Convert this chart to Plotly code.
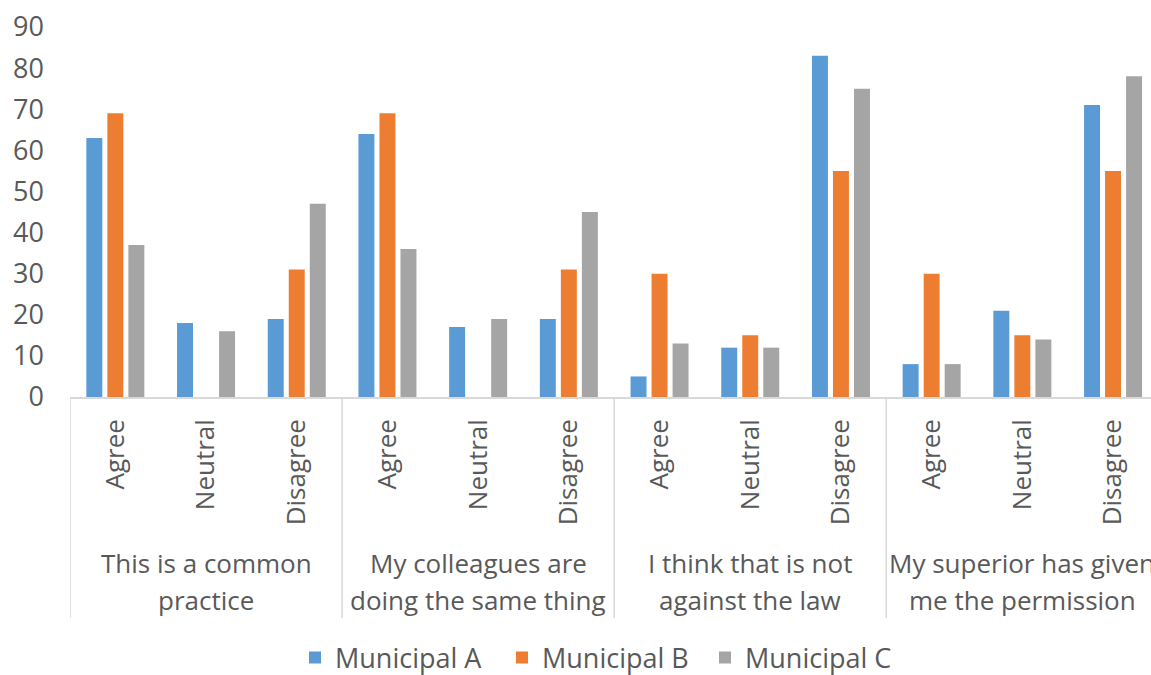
import plotly.graph_objects as go

groups = ["This is a common<br>practice", "My colleagues are<br>doing the same thing",
          "I think that is not<br>against the law", "My superior has given<br>me the permission"]
responses = ["Agree", "Neutral", "Disagree"]
series_names = ["Municipal A", "Municipal B", "Municipal C"]
municipal_a = [63, 18, 19, 64, 17, 19, 5, 12, 83, 8, 21, 71]
municipal_b = [69, 0, 31, 69, 0, 31, 30, 15, 55, 30, 15, 55]
municipal_c = [37, 16, 47, 36, 19, 45, 13, 12, 75, 8, 14, 78]
colors = ["#5B9BD5", "#ED7D31", "#A5A5A5"]
legend_widths = [162, 158, 150]
y_ticks = [0, 10, 20, 30, 40, 50, 60, 70, 80, 90]

n_resp = len(responses)
positions = list(range(len(groups) * n_resp))
tick_text = [responses[i % n_resp] for i in positions]

FONT = "Open Sans"
TXT = "#595959"

fig = go.Figure()
for name, vals, col, lw in zip(series_names, [municipal_a, municipal_b, municipal_c], colors, legend_widths):
    fig.add_trace(go.Bar(x=positions, y=vals, name=name, legendwidth=lw,
                         marker=dict(color=col, line=dict(width=0))))

W, H = 1151, 675
L, T = 70, 27
plot_h = 370
B = H - T - plot_h
plot_w = W - L
x_right = -0.5 + plot_w / 90.7

def py(screen_y):
    return -(screen_y - 397) / plot_h

def px(screen_x):
    return (screen_x - 70) / plot_w

fig.update_layout(
    width=W, height=H,
    margin=dict(l=L, r=0, t=T, b=B, pad=0, autoexpand=False),
    plot_bgcolor="white", paper_bgcolor="white",
    barmode="group", bargap=0.305, bargroupgap=0.24,
    font=dict(family=FONT, color=TXT, size=26),
    showlegend=True,
    legend=dict(orientation="h", x=px(295), xanchor="left", y=py(658), yanchor="middle",
                font=dict(size=27, color=TXT), itemwidth=30, traceorder="normal",
                tracegroupgap=0),
    xaxis=dict(range=[-0.5, x_right], tickmode="array", tickvals=positions, ticktext=tick_text,
               tickangle=-90, showline=True, linecolor="#D9D9D9", linewidth=1.5,
               showgrid=False, zeroline=False, ticks="", ticklabelstandoff=10,
               ticklabeloverflow="allow",
               tickfont=dict(size=26, color=TXT, family=FONT)),
    yaxis=dict(range=[0, 90], tickmode="array", tickvals=y_ticks, showgrid=False, zeroline=False,
               showline=False, ticks="", ticklabelstandoff=25, ticklabeloverflow="allow",
               tickfont=dict(size=27, color=TXT, family=FONT)),
)

div_bottom = py(618)
for g in range(len(groups) + 1):
    xg = g * n_resp - 0.5
    fig.add_shape(type="line", xref="x", yref="paper", x0=xg, x1=xg, y0=0, y1=div_bottom,
                  line=dict(color="#D9D9D9", width=1.5))

line_y = [563, 600]
for g, label in enumerate(groups):
    xc = g * n_resp + (n_resp - 1) / 2
    for k, part in enumerate(label.split("<br>")):
        fig.add_annotation(x=xc, xref="x", y=py(line_y[k]), yref="paper", text=part,
                           showarrow=False, xanchor="center", yanchor="middle", align="center",
                           font=dict(size=26, color=TXT, family=FONT))

fig.write_html("out.html", config={"displayModeBar": False},
               post_script="document.body.style.margin='0px';document.body.style.overflow='hidden';")
